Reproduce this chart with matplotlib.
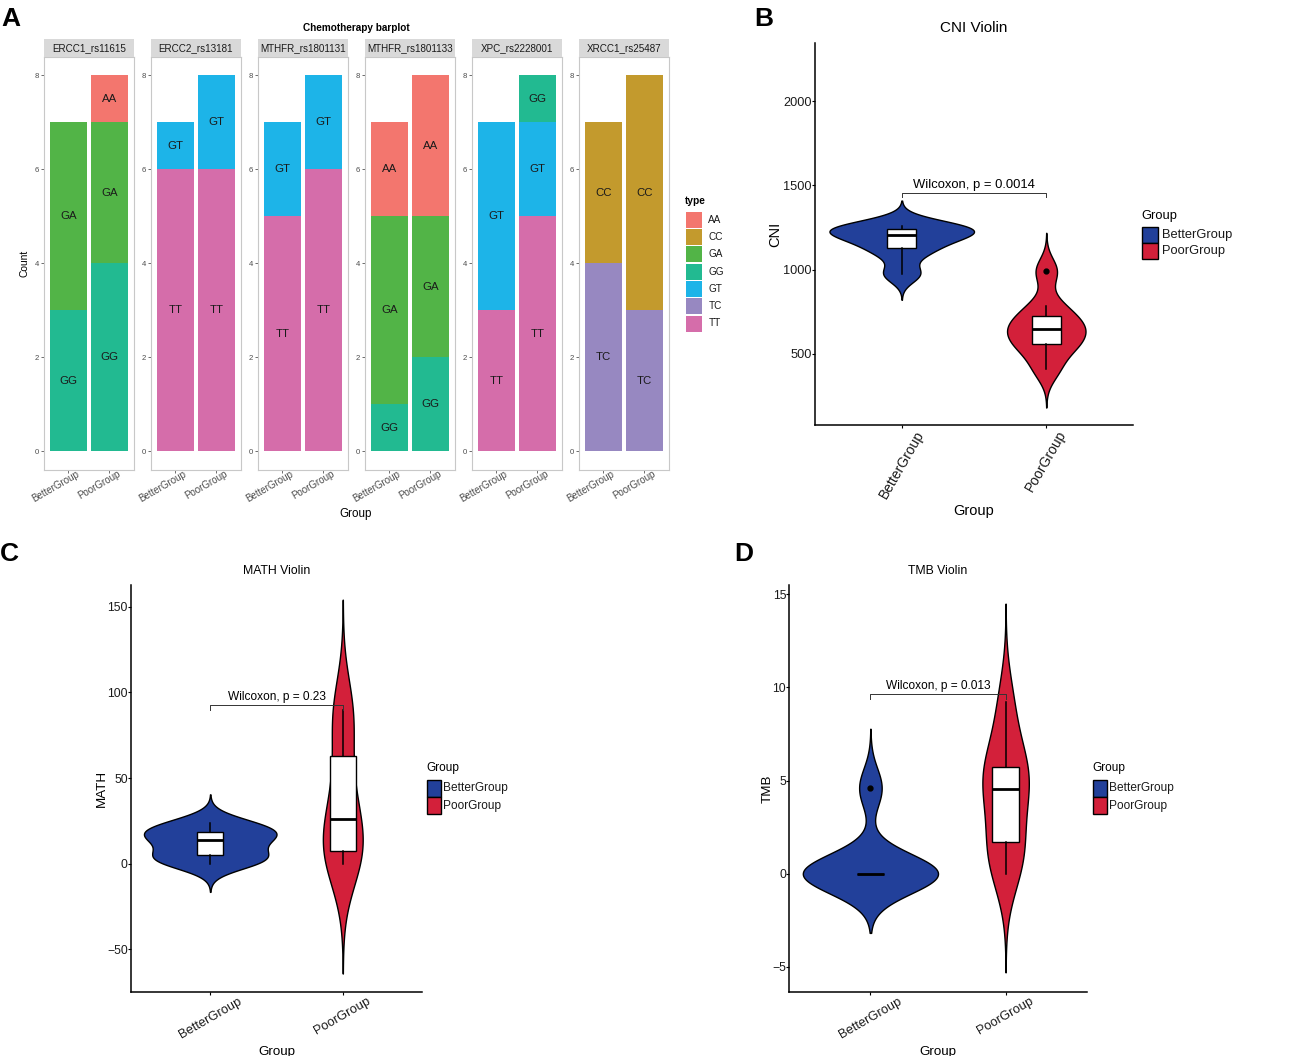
import numpy as np
import matplotlib
matplotlib.use('Agg')
import matplotlib.pyplot as plt
from matplotlib.patches import Rectangle
from matplotlib.transforms import ScaledTranslation
from matplotlib import mlab

plt.rcParams['font.family'] = ['Liberation Sans', 'DejaVu Sans']

# ---------------- panel A data ----------------
groups = ['BetterGroup', 'PoorGroup']
type_levels = ['AA', 'CC', 'GA', 'GG', 'GT', 'TC', 'TT']
type_colors = ['#F3766E', '#C39A2D', '#52B447', '#22BA91', '#1DB4E8', '#9788C1', '#D56DAA']

snp_names = ['ERCC1_rs11615', 'ERCC2_rs13181', 'MTHFR_rs1801131',
             'MTHFR_rs1801133', 'XPC_rs2228001', 'XRCC1_rs25487']
# genotype counts: [BetterGroup, PoorGroup]
ercc1 = {'AA': [0, 1], 'GA': [4, 3], 'GG': [3, 4]}
ercc2 = {'GT': [1, 2], 'TT': [6, 6]}
mthfr1131 = {'GT': [2, 2], 'TT': [5, 6]}
mthfr1133 = {'AA': [2, 3], 'GA': [4, 3], 'GG': [1, 2]}
xpc = {'GG': [0, 1], 'GT': [4, 2], 'TT': [3, 5]}
xrcc1 = {'CC': [3, 5], 'TC': [4, 3]}
snp_counts = [ercc1, ercc2, mthfr1131, mthfr1133, xpc, xrcc1]

# ---------------- violin data ----------------
group_colors = ['#22409A', '#D3203A']
cni_better = [975, 1100, 1161, 1204, 1232, 1254, 1256]
cni_poor = [409, 530, 566, 630, 662, 708, 785, 992]
math_better = [0, 3, 6.6, 14, 16.5, 20, 24]
math_poor = [0, 5, 8.2, 20, 32, 55, 86, 90]
tmb_better = [0, 0, 0, 0, 0, 0, 4.6]
tmb_poor = [0, 1.2, 1.9, 4.2, 4.92, 5.4, 6.64, 9.2]

W, H = 1300, 1056
fig = plt.figure(figsize=(W / 100, H / 100), dpi=100)


def box(l, t, r, b):
    return [l / W, 1 - b / H, (r - l) / W, (b - t) / H]


def fx(x):
    return x / W


def fy(y):
    return 1 - y / H


def key_legend(colors, labels, x, top, kw, kh, step, text_dx, fsize, edge):
    # hand-drawn legend keys (pixel layout) with text labels
    for k, (c, lab) in enumerate(zip(colors, labels)):
        y0 = top + k * step
        fig.add_artist(Rectangle((fx(x), fy(y0 + kh)), kw / W, kh / H, transform=fig.transFigure,
                                 facecolor=c, edgecolor=edge, lw=1.0 if edge != 'none' else 0))
        fig.text(fx(x + kw + text_dx), fy(y0 + kh / 2), lab, ha='left', va='center',
                 fontsize=fsize, color='#1a1a1a')


# ---------------- panel A ----------------
for i, (name, counts) in enumerate(zip(snp_names, snp_counts)):
    left = 43.5 + 107 * i
    ax = fig.add_axes(box(left, 56.7, left + 90.7, 470))
    for g in range(2):
        bottom = 0
        for t in reversed(type_levels):
            if t not in counts or counts[t][g] == 0:
                continue
            h = counts[t][g]
            ax.bar(g + 1, h, width=0.9, bottom=bottom, color=type_colors[type_levels.index(t)], lw=0)
            ax.text(g + 1, bottom + h / 2, t, ha='center', va='center', fontsize=8.2, color='#1a1a1a')
            bottom += h
    ax.set_xlim(0.4, 2.6)
    ax.set_ylim(-0.4, 8.4)
    ax.set_yticks([0, 2, 4, 6, 8])
    ax.set_xticks([1, 2])
    ax.set_xticklabels(groups, rotation=30, ha='right', va='top', rotation_mode='anchor')
    ax.tick_params(axis='both', length=2.2, width=0.5, color='#333333', labelsize=5.6,
                   labelcolor='#4d4d4d', pad=1)
    ax.tick_params(axis='x', labelsize=7, pad=0)
    for lbl in ax.get_xticklabels():
        lbl.set_transform(lbl.get_transform() + ScaledTranslation(0.08, 0.04, fig.dpi_scale_trans))
    for s in ax.spines.values():
        s.set_color('#c8c8c8')
        s.set_linewidth(0.8)
    strip = fig.add_axes(box(left, 39, left + 90.7, 56.7))
    strip.set_facecolor('#d9d9d9')
    strip.set_xticks([])
    strip.set_yticks([])
    for s in strip.spines.values():
        s.set_visible(False)
    strip.text(0.5, 0.5, name, ha='center', va='center', fontsize=7.1, color='#1a1a1a',
               transform=strip.transAxes)

fig.text(fx(356), fy(28), 'Chemotherapy barplot', ha='center', va='center', fontsize=7.2, fontweight='bold')
fig.text(fx(24), fy(263), 'Count', ha='center', va='center', rotation=90, fontsize=7.4)
fig.text(fx(356), fy(514), 'Group', ha='center', va='center', fontsize=8.4)
fig.text(fx(685), fy(201), 'type', ha='left', va='center', fontsize=7.3, fontweight='bold')
key_legend(type_colors, type_levels, 686, 211.7, 16.3, 16, 17.3, 6, 7.2, 'none')


# ---------------- violins ----------------
def nrd0(x):
    sd = np.std(x, ddof=1)
    q1, q3 = np.percentile(x, [25, 75])
    lo = min(sd, (q3 - q1) / 1.34)
    if lo == 0:
        lo = sd
    return 0.9 * lo * len(x) ** -0.2


def violin_panel(ax, samples):
    curves = []
    for vals in samples:
        vals = np.asarray(vals, float)
        bw = nrd0(vals)
        kde = mlab.GaussianKDE(vals, bw_method=bw / np.std(vals, ddof=1))
        ys = np.linspace(vals.min() - 3 * bw, vals.max() + 3 * bw, 512)
        curves.append((ys, kde.evaluate(ys)))
    peak = max(d.max() for _, d in curves)
    for i, (ys, d) in enumerate(curves):
        w = 0.5 * d / peak
        ax.fill_betweenx(ys, i + 1 - w, i + 1 + w, facecolor=group_colors[i],
                         edgecolor='black', lw=1.0, zorder=1)
    ax.boxplot(samples, positions=[1, 2], widths=0.2, patch_artist=True, showcaps=False,
               manage_ticks=False, zorder=3,
               boxprops=dict(facecolor='white', edgecolor='black', linewidth=1.0),
               medianprops=dict(color='black', linewidth=2.0),
               whiskerprops=dict(color='black', linewidth=1.1),
               flierprops=dict(marker='o', markerfacecolor='black', markeredgecolor='black',
                               markersize=3.5))


def style_violin(ax, title, ylab, yticks, ylim, rot, fs):
    ax.set_xlim(0.4, 2.6)
    ax.set_ylim(*ylim)
    ax.set_yticks(yticks)
    ax.set_xticks([1, 2])
    ax.set_xticklabels(groups, rotation=rot, ha='center', va='top')
    for s in ['top', 'right']:
        ax.spines[s].set_visible(False)
    for s in ['left', 'bottom']:
        ax.spines[s].set_linewidth(1.1)
    ax.tick_params(axis='both', length=2.2, width=0.8, color='black', labelcolor='#1a1a1a', pad=0)
    ax.tick_params(axis='y', labelsize=fs['ytick'])
    ax.tick_params(axis='x', labelsize=fs['xtick'])
    ax.set_title(title, fontsize=fs['title'], pad=fs['tpad'])
    ax.set_ylabel(ylab, fontsize=fs['label'], labelpad=fs['ylpad'])
    ax.set_xlabel('Group', fontsize=fs['label'], labelpad=fs['xlpad'])


def bracket(ax, lo, hi, label_y, text, fsize):
    ax.plot([1, 1, 2, 2], [lo, hi, hi, lo], color='#333333', lw=0.7, zorder=5)
    ax.text(1.5, label_y, text, ha='center', va='center', fontsize=fsize, zorder=5)


def group_legend(x, y_title, key_top, key_w, key_h, text_dx, fsize):
    fig.text(fx(x), fy(y_title), 'Group', ha='left', va='center', fontsize=fsize)
    key_legend(group_colors, groups, x + 1, key_top, key_w, key_h, key_h, text_dx, fsize, 'black')


fs_b = dict(ytick=9.2, xtick=10, title=11, label=10.5, tpad=8, ylpad=0.5, xlpad=2)
fs_cd = dict(ytick=8.8, xtick=9.3, title=8.8, label=9.6, tpad=8, ylpad=-1, xlpad=4)

axb = fig.add_axes(box(815, 43, 1133, 425))
violin_panel(axb, [cni_better, cni_poor])
style_violin(axb, 'CNI Violin', 'CNI', [500, 1000, 1500, 2000], (79, 2344), 60, fs_b)
bracket(axb, 1429, 1453, 1500, 'Wilcoxon, p = 0.0014', 9.4)
group_legend(1141, 216, 227, 16, 16, 4, 9.3)

axc = fig.add_axes(box(130.7, 585, 422.3, 992.3))
violin_panel(axc, [math_better, math_poor])
style_violin(axc, 'MATH Violin', 'MATH', [-50, 0, 50, 100, 150], (-75.1, 162.7), 30, fs_cd)
bracket(axc, 89.9, 92.8, 97.2, 'Wilcoxon, p = 0.23', 8.6)
group_legend(426, 767.7, 780, 13.5, 17, 2.5, 8.6)

axd = fig.add_axes(box(789.3, 585, 1086.7, 992.3))
violin_panel(axd, [tmb_better, tmb_poor])
style_violin(axd, 'TMB Violin', 'TMB', [-5, 0, 5, 10, 15], (-6.37, 15.5), 30, fs_cd)
bracket(axd, 9.37, 9.66, 10.1, 'Wilcoxon, p = 0.013', 8.6)
group_legend(1092, 767.7, 780, 13.5, 17, 2.5, 8.6)

# panel letters
for letter, x, y in [('A', 1, 7), ('B', 754, 7), ('C', 0, 542), ('D', 734, 542)]:
    fig.text(fx(x), fy(y), letter, ha='left', va='top', fontsize=19, fontweight='bold')

fig.savefig('out.png', dpi=100)
